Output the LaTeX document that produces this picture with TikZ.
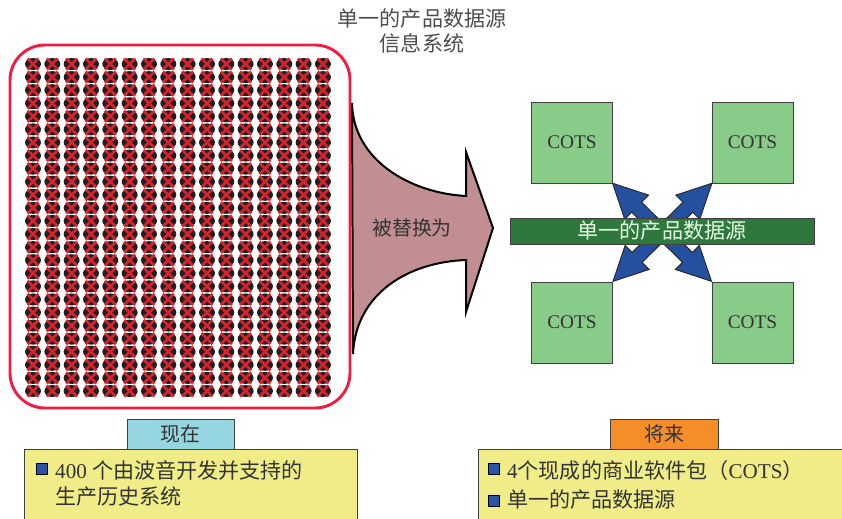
\documentclass[tikz,border=0pt]{standalone}
\usepackage{fontspec}
\setmainfont{Liberation Serif}
\newfontfamily\cjk{Noto Sans CJK SC}
\usepackage{tikz}
\usetikzlibrary{calc}
\definecolor{frame}{RGB}{237,30,64}
\definecolor{icondark}{RGB}{35,31,32}
\definecolor{iconred}{RGB}{215,35,45}
\definecolor{swap}{RGB}{193,142,146}
\definecolor{cotsgreen}{RGB}{137,203,137}
\definecolor{bargreen}{RGB}{46,120,62}
\definecolor{linkblue}{RGB}{37,80,160}
\definecolor{nowtab}{RGB}{150,214,224}
\definecolor{latertab}{RGB}{245,142,40}
\definecolor{notes}{RGB}{240,237,136}
\definecolor{dotblue}{RGB}{40,85,170}

% fat double-headed arrow between two points
\newcommand{\blockarrow}[2]{%
  \path let \p1=($(#2)-(#1)$) in
    \pgfextra{\pgfmathsetmacro{\baang}{atan2(\y1,\x1)}%
      \pgfmathsetmacro{\balen}{veclen(\x1,\y1)}%
      \xdef\baang{\baang}\xdef\balen{\balen}};
  \pgfmathsetmacro{\baneck}{\balen-29}%
  \begin{scope}[shift={(#1)}, rotate=\baang]
    \filldraw[fill=linkblue, draw=black!85, line width=0.8pt, line join=miter]
      (0pt,0pt) -- (29pt,14.5pt) -- (29pt,6pt) -- (\baneck pt,6pt)
      -- (\baneck pt,14.5pt) -- (\balen pt,0pt) -- (\baneck pt,-14.5pt)
      -- (\baneck pt,-6pt) -- (29pt,-6pt) -- (29pt,-14.5pt) -- cycle;
  \end{scope}}

\begin{document}
\begin{tikzpicture}[x=0.03cm, y=-0.03cm,
  every node/.style={text=black!80},
  cots/.style={draw=black!75, fill=cotsgreen, minimum width=2.42cm, minimum height=2.43cm, font=\fontsize{16.5}{20}\selectfont},
  tab/.style={draw=black!75, minimum height=0.9cm, inner sep=0pt, font=\cjk\fontsize{17}{20}\selectfont},
  bullet/.style={draw=black, fill=dotblue, minimum size=0.33cm, inner sep=0pt},
  note/.style={anchor=west, inner sep=0pt, font=\fontsize{18}{22}\selectfont}]
\useasboundingbox (0,0) rectangle (842,518);
\clip (0,0) rectangle (842,518);

\node[align=center, text=black!70, font=\cjk\fontsize{18}{22}\selectfont] (title) at (422,31) {单一的产品数据源\\信息系统};

\filldraw[fill=swap, draw=black, line width=1.7pt, line join=miter]
  (352,103) .. controls (353,160) and (410,193) .. (466,196) -- (466,152) -- (493,228)
  -- (466,312) -- (466,260) .. controls (410,262) and (356,292) .. (353,354) -- cycle;
\node[font=\cjk\fontsize{17}{20}\selectfont] (swaptext) at (412,228) {被替换为};

\draw[frame, line width=2.5pt, rounded corners=1.05cm] (10,45) rectangle (350,408);
\foreach \i in {0,...,15}
  \foreach \j in {0,...,25}
  {
    \fill[icondark] (33+19.33*\i,64+13.08*\j) ellipse [x radius=0.24cm, y radius=0.18cm];
    \draw[iconred, line width=2.3pt] (27.5+19.33*\i,58.5+13.08*\j) -- (38.5+19.33*\i,69.5+13.08*\j);
    \draw[iconred, line width=2.3pt] (27.5+19.33*\i,69.5+13.08*\j) -- (38.5+19.33*\i,58.5+13.08*\j);
  }

\node[cots] (tl) at (572,142.5) {COTS};
\node[cots] (tr) at (752.5,142.5) {COTS};
\node[cots] (bl) at (572,322.5) {COTS};
\node[cots] (br) at (752.5,322.5) {COTS};

\blockarrow{tl.south east}{br.north west}
\blockarrow{tr.south west}{bl.north east}

\node[draw=black!75, fill=bargreen, minimum width=9.12cm, minimum height=0.78cm, inner sep=0pt,
  text=white!90!green, font=\cjk\fontsize{18}{22}\selectfont] (source) at (662,231) {单一的产品数据源};

\fill[notes, draw=black!75] (24,449) rectangle (357,530);
\fill[notes, draw=black!75] (478,449) rectangle (850,530);
\node[tab, fill=nowtab, minimum width=3.21cm] (now) at (180.5,434) {现在};
\node[tab, fill=latertab, minimum width=3.24cm] (later) at (664,434) {将来};

\node[bullet] (b1) at (41.5,469) {};
\node[note] (n1) at (55,470) {400 \cjk 个由波音开发并支持的};
\node[note] (n2) at (55,497) {\cjk 生产历史系统};
\node[bullet] (b2) at (494,469) {};
\node[note] (n3) at (507,470) {4\cjk 个现成的商业软件包（{\rmfamily COTS}）};
\node[bullet] (b3) at (494,501) {};
\node[note] (n4) at (507,500) {\cjk 单一的产品数据源};
\end{tikzpicture}
\end{document}
